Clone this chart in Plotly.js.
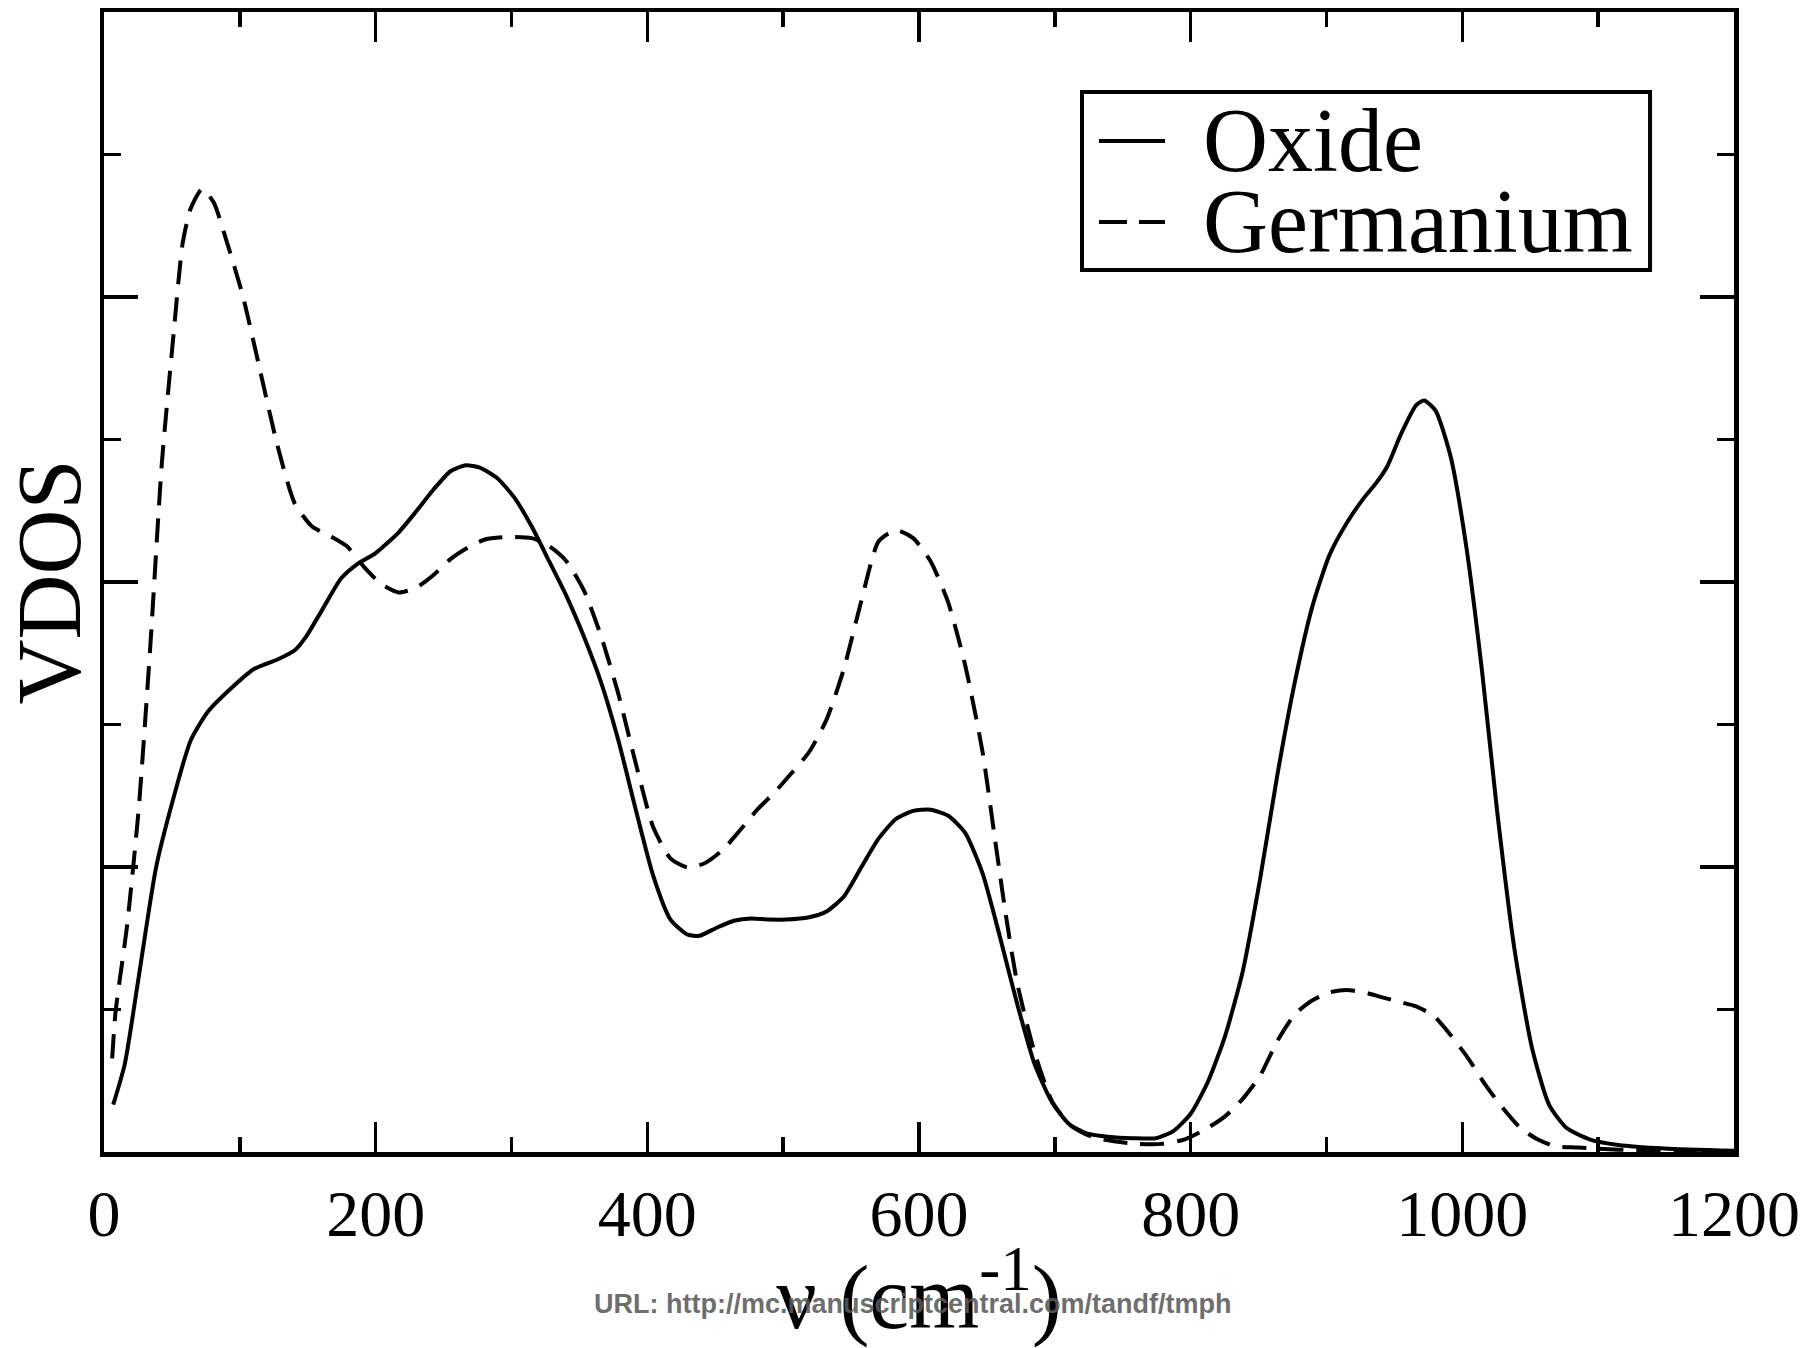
<!DOCTYPE html>
<html>
<head>
<meta charset="utf-8">
<script src="https://cdn.plot.ly/plotly-3.0.1.min.js"></script>
<style>html,body{margin:0;padding:0;background:#fff;}#chart{width:1812px;height:1348px;}</style>
</head>
<body>
<div id="chart"></div>
<script>
// Wavenumber (cm^-1) and VDOS (arbitrary units)
const oxideX = [6.8,15.3,25.5,38.3,51.1,63.8,76.6,93.6,110.6,127.7,140.4,148.9,161.7,174.5,187.2,200,217,229.8,242.6,255.3,266.4,276.6,289.4,302.1,314.9,327.7,340.4,353.2,366,378.7,391.5,404.3,417,429.8,438.3,451.1,463.8,476.6,489.4,502.1,519.1,531.9,544.7,557.4,570.2,583,595.7,608.5,621.3,634,646.8,659.6,672.3,685.1,697.9,710.6,723.4,740.4,757.4,774.5,787.2,800,812.8,825.5,838.3,851.1,863.8,876.6,889.4,902.1,914.9,927.7,936.2,944.7,954.9,966,971.9,980.4,991.5,1002.6,1014.5,1025.5,1038.3,1051.1,1063.8,1076.6,1093.6,1114.9,1148.9,1200];
const oxideY = [0.333,0.617,1.225,1.996,2.483,2.888,3.091,3.254,3.391,3.456,3.521,3.619,3.822,4.024,4.130,4.203,4.349,4.495,4.649,4.779,4.819,4.803,4.730,4.592,4.389,4.146,3.903,3.619,3.294,2.888,2.402,1.939,1.631,1.525,1.517,1.574,1.623,1.639,1.631,1.631,1.647,1.688,1.793,1.996,2.199,2.337,2.394,2.402,2.361,2.239,1.955,1.509,1.039,0.617,0.349,0.195,0.130,0.105,0.097,0.097,0.146,0.268,0.495,0.819,1.266,1.915,2.645,3.294,3.822,4.187,4.414,4.592,4.690,4.811,5.039,5.241,5.274,5.201,4.876,4.268,3.375,2.402,1.428,0.738,0.333,0.170,0.089,0.049,0.024,0.008];

const germX = [6.0,8.5,17.0,25.5,34.0,42.6,51.1,57.9,63.8,72.3,80.9,89.4,102.1,114.9,127.7,140.4,153.2,166,178.7,191.5,204.3,217,229.8,242.6,255.3,268.1,280.9,297.9,314.9,327.7,340.4,353.2,366,378.7,391.5,404.3,417,429.8,442.6,455.3,468.1,480.9,493.6,506.4,519.1,531.9,544.7,557.4,570.2,583,595.7,608.5,621.3,634,646.8,655.3,663.8,672.3,685.1,697.9,710.6,727.7,744.7,761.7,778.7,795.7,812.8,825.5,838.3,851.1,863.8,876.6,889.4,902.1,914.9,927.7,940.4,953.2,966,978.7,991.5,1004.3,1017,1029.8,1042.6,1055.3,1068.1,1085.1,1114.9,1157.4,1200];
const germY = [0.657,0.982,1.590,2.402,3.537,4.836,5.728,6.377,6.621,6.759,6.661,6.418,6.012,5.485,4.957,4.552,4.389,4.325,4.252,4.105,3.984,3.927,3.959,4.049,4.162,4.243,4.300,4.316,4.308,4.252,4.146,3.943,3.619,3.213,2.726,2.280,2.061,1.996,2.028,2.118,2.256,2.402,2.523,2.661,2.807,3.034,3.391,3.862,4.284,4.365,4.308,4.146,3.862,3.416,2.807,2.239,1.671,1.185,0.698,0.357,0.195,0.105,0.073,0.057,0.057,0.089,0.170,0.252,0.373,0.535,0.779,0.966,1.063,1.120,1.136,1.120,1.087,1.055,1.022,0.957,0.819,0.657,0.471,0.308,0.170,0.089,0.041,0.032,0.016,0.008,0.0];

const seriesNames = ['Oxide', 'Germanium'];
const xTitle = 'ν (cm<sup>-1</sup>)';
const yTitle = 'VDOS';
const watermark = 'URL: http://mc.manuscriptcentral.com/tandf/tmph';

const serif = 'Liberation Serif, Times New Roman, serif';

const traces = [
  {x: oxideX, y: oxideY, name: seriesNames[0], mode: 'lines', type: 'scatter',
   line: {color: '#000', width: 4, shape: 'spline', smoothing: 0.6}, showlegend: false},
  {x: germX, y: germY, name: seriesNames[1], mode: 'lines', type: 'scatter',
   line: {color: '#000', width: 4, dash: '24px,13px', shape: 'spline', smoothing: 0.6}, showlegend: false}
];

const layout = {
  width: 1812, height: 1348,
  margin: {l: 104, r: 78, t: 12, b: 196},
  paper_bgcolor: '#fff', plot_bgcolor: '#fff',
  showlegend: false,
  xaxis: {
    range: [0, 1200], tick0: 0, dtick: 200,
    ticks: 'inside', ticklen: 30, tickwidth: 3.5, tickcolor: '#000',
    showline: true, linewidth: 4.5, linecolor: '#000', mirror: 'ticks',
    showgrid: false, zeroline: false,
    minor: {dtick: 100, ticks: 'inside', ticklen: 15, tickwidth: 3.5, tickcolor: '#000', showgrid: false},
    tickfont: {family: serif, size: 66, color: '#000'},
    title: {text: xTitle, font: {family: serif, size: 90, color: '#000'}, standoff: 22}
  },
  yaxis: {
    range: [0, 8], tick0: 0, dtick: 2,
    ticks: 'inside', ticklen: 34, tickwidth: 3.5, tickcolor: '#000',
    showline: true, linewidth: 4.5, linecolor: '#000', mirror: 'ticks',
    showgrid: false, zeroline: false, showticklabels: false,
    minor: {dtick: 1, ticks: 'inside', ticklen: 17, tickwidth: 3.5, tickcolor: '#000', showgrid: false},
    title: {text: yTitle, font: {family: serif, size: 90, color: '#000'}, standoff: 10}
  },
  shapes: [
    {type: 'rect', xref: 'paper', yref: 'paper', x0: 0.600, x1: 0.9485, y0: 0.7737, y1: 0.9298,
     line: {color: '#000', width: 4}, fillcolor: '#fff'},
    {type: 'line', xref: 'paper', yref: 'paper', x0: 0.6104, x1: 0.6509, y0: 0.8868, y1: 0.8868,
     line: {color: '#000', width: 4}},
    {type: 'line', xref: 'paper', yref: 'paper', x0: 0.6104, x1: 0.6509, y0: 0.8158, y1: 0.8158,
     line: {color: '#000', width: 4, dash: '28px,12px'}}
  ],
  annotations: [
    {text: seriesNames[0], xref: 'paper', yref: 'paper', x: 0.6736, y: 0.8877, xanchor: 'left', yanchor: 'middle',
     showarrow: false, font: {family: serif, size: 90, color: '#000'}, borderpad: 0},
    {text: seriesNames[1], xref: 'paper', yref: 'paper', x: 0.6736, y: 0.8158, xanchor: 'left', yanchor: 'middle',
     showarrow: false, font: {family: serif, size: 90, color: '#000'}, borderpad: 0},
    {text: '<b>' + watermark + '</b>', xref: 'paper', yref: 'paper', x: 0.4963, y: -0.1333, xanchor: 'center', yanchor: 'middle',
     showarrow: false, font: {family: 'Liberation Sans, Arial, sans-serif', size: 27, color: 'rgba(90,90,90,0.9)'}}
  ]
};

Plotly.newPlot('chart', traces, layout, {staticPlot: true, displayModeBar: false});
</script>
</body>
</html>
